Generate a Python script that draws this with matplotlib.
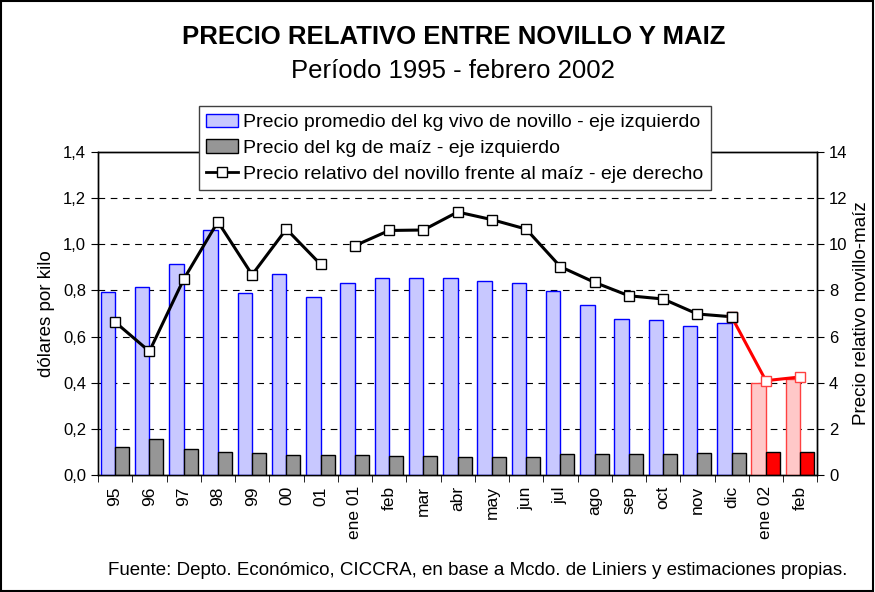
import matplotlib
matplotlib.use('Agg')
from matplotlib import pyplot as plt
from matplotlib.patches import Patch, Rectangle
from matplotlib.lines import Line2D
import numpy as np

plt.rcParams['font.family'] = ['Liberation Sans', 'DejaVu Sans']

categorias = ['95', '96', '97', '98', '99', '00', '01', 'ene 01', 'feb', 'mar', 'abr',
              'may', 'jun', 'jul', 'ago', 'sep', 'oct', 'nov', 'dic', 'ene 02', 'feb']
novillo = [0.794, 0.815, 0.913, 1.062, 0.790, 0.870, 0.770, 0.833, 0.852, 0.852, 0.852,
           0.839, 0.833, 0.797, 0.737, 0.675, 0.670, 0.644, 0.659, 0.399, 0.417]
maiz = [0.123, 0.155, 0.111, 0.098, 0.094, 0.085, 0.087, 0.087, 0.083, 0.083, 0.077,
        0.078, 0.080, 0.091, 0.091, 0.089, 0.091, 0.094, 0.097, 0.100, 0.100]
relativo = [6.63, 5.36, 8.48, 10.98, 8.68, 10.66, 9.13, 9.94, 10.60, 10.62, 11.40,
            11.07, 10.66, 9.03, 8.35, 7.77, 7.63, 6.98, 6.86, 4.09, 4.25]
n_estimados = 2  # ene 02 y feb son estimaciones (en rojo)

x = np.arange(len(categorias))
n_real = len(categorias) - n_estimados

fig = plt.figure(figsize=(8.75, 5.92), dpi=100)
ax = fig.add_axes([0.112, 0.1976, 0.822, 0.5456])
ax2 = ax.twinx()

col_nov = ['#c8c8ff'] * n_real + ['#ffc8c8'] * n_estimados
edge_nov = ['#0000ff'] * n_real + ['#ff4040'] * n_estimados
col_maiz = ['#969696'] * n_real + ['#ff0000'] * n_estimados

ax.bar(x - 0.42, novillo, width=0.42, align='edge', color=col_nov,
       edgecolor=edge_nov, linewidth=1, zorder=3)
ax.bar(x, maiz, width=0.41, align='edge', color=col_maiz,
       edgecolor='black', linewidth=1, zorder=3)

yt = np.arange(0, 1.41, 0.2)
ax.set_ylim(0, 1.4)
ax.set_yticks(yt)
ax.set_yticklabels([('%.1f' % v).replace('.', ',') for v in yt])
ax.set_xlim(-0.5, len(categorias) - 0.5)
ax.set_xticks(x)
ax.set_xticklabels(categorias, rotation=90)
ax.set_xticks(np.arange(-0.5, len(categorias), 1), minor=True)
ax.tick_params(axis='x', which='major', length=0, pad=8, labelsize=12.5)
ax.tick_params(axis='x', which='minor', length=5, direction='out')
ax.tick_params(axis='y', labelsize=12, length=5)
for yv in np.arange(0.2, 1.3, 0.2):
    ax.axhline(yv, color='black', linestyle=(0, (6, 5)), linewidth=0.8, zorder=1)
ax.set_ylabel('dólares por kilo', fontsize=13.5, labelpad=6)

mk = dict(marker='s', markersize=7, markerfacecolor='white', markeredgewidth=1)
ax2.plot(x[:7], relativo[:7], color='black', lw=2.2, markeredgecolor='black', zorder=4, **mk)
ax2.plot(x[7:n_real], relativo[7:n_real], color='black', lw=2.2,
         markeredgecolor='black', zorder=4, **mk)
ax2.plot(x[n_real - 1:], relativo[n_real - 1:], color='#ff0000', lw=2.2,
         markeredgecolor='#ff4040', zorder=4, **mk)
ax2.plot(x[n_real - 1], relativo[n_real - 1], color='black',
         markeredgecolor='black', zorder=5, **mk)
ax2.set_ylim(0, 14)
ax2.set_yticks(np.arange(0, 15, 2))
ax2.tick_params(axis='y', labelsize=12, length=5)
ax2.set_ylabel('Precio relativo novillo-maíz', fontsize=13.5, labelpad=4)

for a in (ax, ax2):
    for s in a.spines.values():
        s.set_linewidth(1)

fig.text(0.518, 0.937, 'PRECIO RELATIVO ENTRE NOVILLO Y MAIZ', ha='center', va='center',
         fontsize=18.5, fontweight='bold')
fig.text(0.518, 0.880, 'Período 1995 - febrero 2002', ha='center', va='center', fontsize=18.5)
fig.text(0.546, 0.037, 'Fuente: Depto. Económico, CICCRA, en base a Mcdo. de Liniers y estimaciones propias.',
         ha='center', va='center', fontsize=13.5)

handles = [Patch(facecolor='#c8c8ff', edgecolor='#0000ff'),
           Patch(facecolor='#969696', edgecolor='black'),
           Line2D([], [], color='black', lw=2, markeredgecolor='black', **mk)]
labels = ['Precio promedio del kg vivo de novillo - eje izquierdo',
          'Precio del kg de maíz - eje izquierdo',
          'Precio relativo del novillo frente al maíz - eje derecho']
leg = fig.legend(handles, labels, loc='upper center', bbox_to_anchor=(0.52, 1 - 96 / 592),
                 fontsize=14, fancybox=False, framealpha=1, edgecolor='#404040',
                 handlelength=1.6, handletextpad=0.3, labelspacing=0.42, borderpad=0.4)
leg.get_frame().set_linewidth(1)

fig.patches.append(Rectangle((0.001, 0.001), 0.997, 0.997, transform=fig.transFigure,
                             fill=False, edgecolor='black', linewidth=1.5))

fig.savefig('out.png', dpi=100)
